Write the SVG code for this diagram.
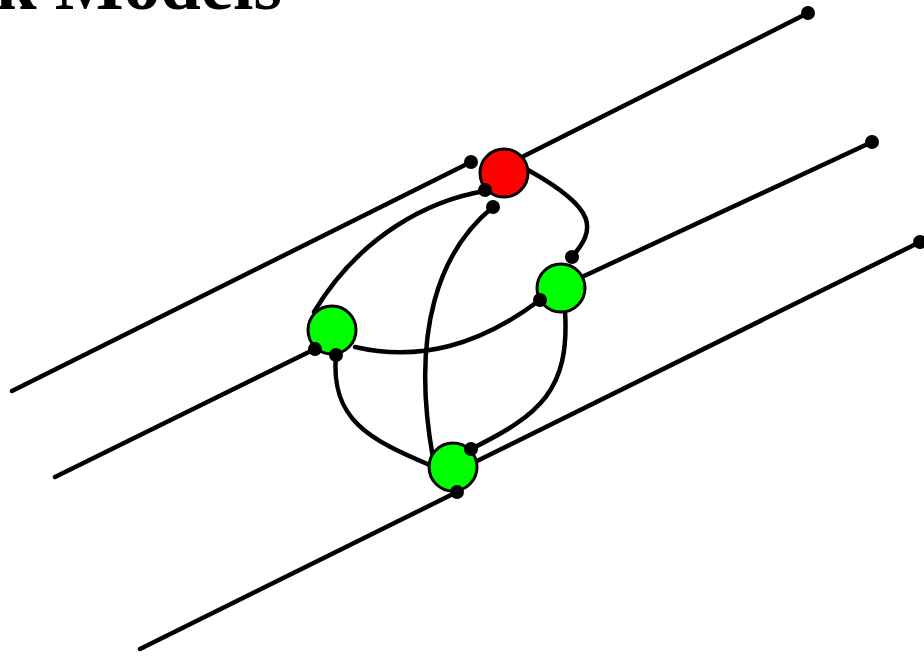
<svg xmlns="http://www.w3.org/2000/svg" width="924" height="656" viewBox="0 0 924 656">
<style>
.ln{fill:none;stroke:#000;stroke-width:4.5;stroke-linecap:round}
.dot{fill:#000}
.node{stroke:#000;stroke-width:3}
.title{font-family:"Liberation Serif",serif;font-weight:bold;font-size:73px;fill:#000}
</style>
<rect width="924" height="656" fill="#fff"/>
<text class="title" x="-4" y="9">k Models</text>
<g id="connectors">
<path class="ln" d="M12,391 L471,162"/>
<path class="ln" d="M522,157 L808,13"/>
<path class="ln" d="M55,477 L315,349"/>
<path class="ln" d="M582,277 L872,142"/>
<path class="ln" d="M140,649 L457,492"/>
<path class="ln" d="M477,461 L920,242"/>
<path class="ln" d="M485,191 C430,200 360,235 314,312"/>
<path class="ln" d="M493,207 C440,250 410,330 433,458"/>
<path class="ln" d="M528,170 C600,210 595,230 572,257"/>
<path class="ln" d="M336,355 C330,420 370,440 432,466"/>
<path class="ln" d="M355,347 C420,362 480,345 540,300"/>
<path class="ln" d="M565,311 C570,390 540,415 471,449"/>
</g>
<g id="node-red"><circle class="node" cx="504" cy="173" r="24" fill="#ff0000"/></g>
<g id="node-left"><circle class="node" cx="332" cy="330" r="24" fill="#00ff00"/></g>
<g id="node-right"><circle class="node" cx="561" cy="288" r="24" fill="#00ff00"/></g>
<g id="node-bottom"><circle class="node" cx="453" cy="467" r="24" fill="#00ff00"/></g>
<g id="dots">
<circle class="dot" cx="471" cy="162" r="7"/>
<circle class="dot" cx="485" cy="190" r="7"/>
<circle class="dot" cx="493" cy="207" r="7"/>
<circle class="dot" cx="572" cy="257" r="7"/>
<circle class="dot" cx="315" cy="349" r="7"/>
<circle class="dot" cx="336" cy="355" r="7"/>
<circle class="dot" cx="540" cy="300" r="7"/>
<circle class="dot" cx="471" cy="449" r="7"/>
<circle class="dot" cx="457" cy="492" r="7"/>
<circle class="dot" cx="808" cy="13" r="7"/>
<circle class="dot" cx="872" cy="142" r="7"/>
<circle class="dot" cx="920" cy="242" r="7"/>
</g>
</svg>
